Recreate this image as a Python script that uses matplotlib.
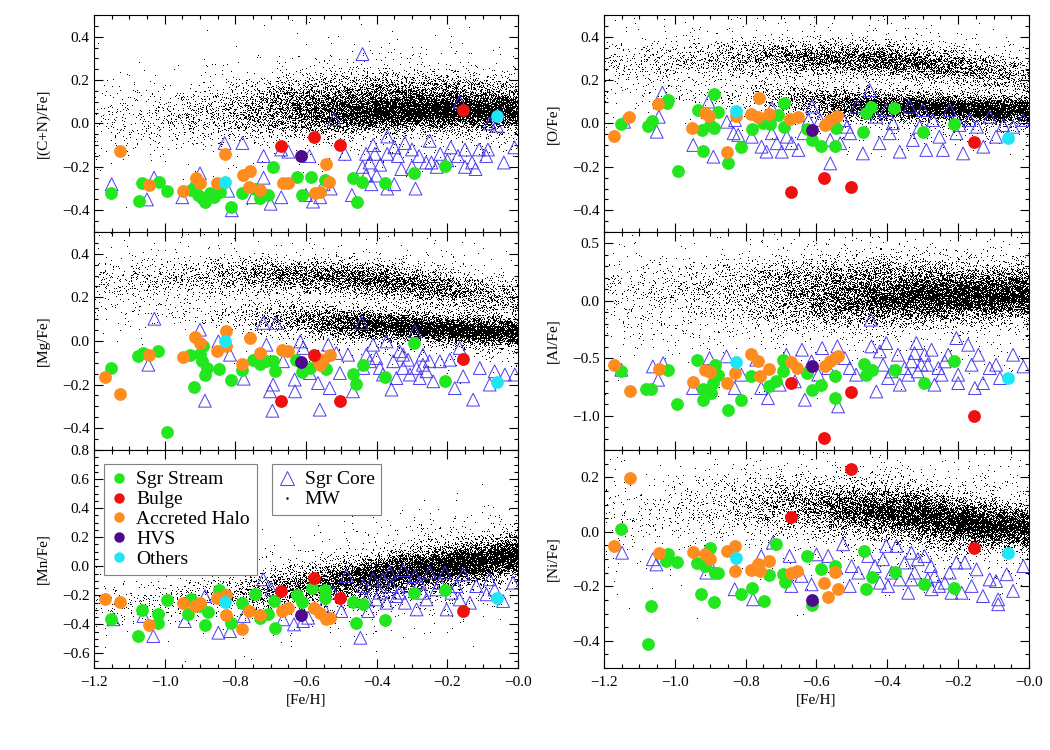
import numpy as np
import matplotlib
matplotlib.use('Agg')
import matplotlib.pyplot as plt
from matplotlib.lines import Line2D
from matplotlib.ticker import MultipleLocator, FixedLocator, FixedFormatter, FuncFormatter
from statistics import NormalDist

# ---------------- data ----------------
FEH_TICKS = [-1.2, -1.0, -0.8, -0.6, -0.4, -0.2, 0.0]
FEH_TICKLABELS = ["\u22121.2", "\u22121.0", "\u22120.8", "\u22120.6", "\u22120.4", "\u22120.2", "\u22120.0"]

# stars shared by every panel (Fe/H)
BULGE_FE = [-0.672, -0.578, -0.503, -0.156]
HVS_FE = [-0.614]
OTHERS_FE = [-0.828, -0.060]

# ---- [(C+N)/Fe]
CN_BULGE = [-0.104, -0.061, -0.097, 0.062]
CN_HVS = [-0.150]
CN_OTHERS = [-0.268, 0.034]
CN_STREAM = [(-1.152, -0.319), (-1.073, -0.356), (-1.065, -0.276), (-1.017, -0.268), (-0.993, -0.310),
             (-0.924, -0.307), (-0.915, -0.290), (-0.905, -0.330), (-0.895, -0.345), (-0.886, -0.360),
             (-0.872, -0.322), (-0.860, -0.340), (-0.844, -0.314), (-0.811, -0.383), (-0.780, -0.322),
             (-0.745, -0.300), (-0.731, -0.345), (-0.707, -0.330), (-0.693, -0.199), (-0.624, -0.248),
             (-0.612, -0.329), (-0.587, -0.248), (-0.547, -0.260), (-0.467, -0.253), (-0.455, -0.363),
             (-0.441, -0.271), (-0.377, -0.273), (-0.294, -0.227), (-0.207, -0.194)]
CN_HALO = [(-1.126, -0.127), (-1.044, -0.283), (-0.948, -0.311), (-0.912, -0.253), (-0.900, -0.273),
           (-0.853, -0.273), (-0.828, -0.142), (-0.778, -0.237), (-0.757, -0.219), (-0.761, -0.291),
           (-0.731, -0.306), (-0.666, -0.276), (-0.650, -0.273), (-0.544, -0.187), (-0.534, -0.270),
           (-0.574, -0.319), (-0.560, -0.314)]
CN_CORE = [(-1.15, -0.28), (-1.05, -0.35), (-1.03, -0.25), (-0.95, -0.34), (-0.90, -0.23), (-0.83, -0.09),
           (-0.78, -0.09), (-0.82, -0.31), (-0.81, -0.40), (-0.75, -0.34), (-0.72, -0.15), (-0.72, -0.25),
           (-0.70, -0.37), (-0.67, -0.34), (-0.67, -0.12), (-0.65, -0.13), (-0.60, -0.33), (-0.59, -0.15),
           (-0.58, -0.36), (-0.56, -0.34), (-0.55, -0.28), (-0.53, -0.30), (-0.52, 0.02), (-0.49, -0.14),
           (-0.47, -0.33), (-0.44, 0.32), (-0.44, -0.20), (-0.43, -0.14), (-0.43, -0.24), (-0.42, -0.18),
           (-0.415, -0.28), (-0.41, -0.10), (-0.405, -0.14), (-0.40, -0.24), (-0.39, -0.19), (-0.37, -0.30),
           (-0.37, -0.06), (-0.37, -0.14), (-0.35, -0.11), (-0.35, -0.28), (-0.34, -0.15), (-0.33, -0.21),
           (-0.32, -0.09), (-0.30, -0.12), (-0.30, -0.20), (-0.29, -0.30), (-0.28, -0.15), (-0.26, -0.18),
           (-0.25, -0.08), (-0.245, -0.18), (-0.23, -0.20), (-0.22, -0.14), (-0.20, -0.17), (-0.19, -0.11),
           (-0.17, -0.15), (-0.165, 0.10), (-0.15, -0.12), (-0.15, -0.20), (-0.13, -0.18), (-0.12, -0.21),
           (-0.11, -0.12), (-0.09, -0.15), (-0.085, -0.12), (-0.08, 0.00), (-0.06, -0.01), (-0.04, -0.18),
           (-0.01, -0.11)]

# ---- [O/Fe]
O_BULGE = [-0.317, -0.250, -0.294, -0.087]
O_HVS = [-0.030]
O_OTHERS = [0.058, -0.068]
O_STREAM = [(-1.153, -0.004), (-1.077, -0.012), (-1.065, 0.012), (-1.023, 0.096), (-1.018, 0.108),
            (-0.992, -0.217), (-0.935, 0.062), (-0.924, -0.030), (-0.919, -0.125), (-0.888, 0.134),
            (-0.879, 0.054), (-0.900, -0.007), (-0.888, -0.022), (-0.849, -0.180), (-0.814, -0.107),
            (-0.783, -0.027), (-0.750, 0.001), (-0.731, -0.004), (-0.709, 0.039), (-0.691, 0.096),
            (-0.693, -0.018), (-0.628, -0.027), (-0.613, -0.076), (-0.588, -0.104), (-0.548, -0.104),
            (-0.545, -0.022), (-0.469, -0.038), (-0.460, 0.050), (-0.446, 0.077), (-0.380, 0.070),
            (-0.300, -0.038), (-0.213, -0.002)]
O_HALO = [(-1.171, -0.058), (-1.128, 0.028), (-1.047, 0.090), (-0.952, -0.022), (-0.915, 0.047),
          (-0.903, 0.035), (-0.853, -0.130), (-0.828, 0.035), (-0.761, 0.119), (-0.785, 0.042),
          (-0.764, 0.031), (-0.733, 0.042), (-0.675, 0.019), (-0.651, 0.031), (-0.576, -0.007),
          (-0.561, 0.016), (-0.543, 0.035)]
O_CORE = [(-1.143, 0.008), (-1.035, 0.142), (-1.045, 0.031), (-1.051, -0.038), (-0.948, -0.099),
          (-0.905, 0.101), (-0.891, -0.153), (-0.853, 0.008), (-0.830, 0.016), (-0.834, -0.045),
          (-0.821, -0.053), (-0.783, -0.061), (-0.755, -0.107), (-0.741, -0.130), (-0.726, -0.045),
          (-0.712, -0.091), (-0.698, -0.130), (-0.684, -0.061), (-0.670, -0.091), (-0.651, -0.122),
          (-0.637, -0.045), (-0.623, 0.016), (-0.613, 0.078), (-0.726, 0.070), (-0.590, 0.016),
          (-0.561, -0.076), (-0.561, -0.184), (-0.524, 0.016), (-0.505, -0.045), (-0.486, 0.078),
          (-0.469, -0.138), (-0.450, 0.154), (-0.431, 0.031), (-0.422, -0.091), (-0.403, 0.062),
          (-0.393, -0.045), (-0.365, -0.130), (-0.337, 0.078), (-0.328, -0.076), (-0.300, 0.062),
          (-0.290, -0.122), (-0.271, 0.016), (-0.253, -0.061), (-0.243, -0.122), (-0.224, 0.062),
          (-0.205, -0.045), (-0.186, -0.138), (-0.168, 0.016), (-0.147, -0.015), (-0.129, -0.107),
          (-0.111, 0.031), (-0.093, -0.061), (-0.073, -0.007), (-0.045, -0.015), (-0.017, 0.016),
          (-0.514, -0.015), (-0.384, 0.001), (-0.309, -0.015), (-0.196, -0.007), (-0.533, -0.091)]

# ---- [Mg/Fe]
MG_BULGE = [-0.274, -0.063, -0.274, -0.081]
MG_HVS = [-0.096]
MG_OTHERS = [-0.002, -0.188]
MG_STREAM = [(-1.153, -0.124), (-1.075, -0.070), (-1.060, -0.055), (-1.018, -0.044), (-0.993, -0.417),
             (-0.917, -0.213), (-0.929, -0.066), (-0.900, -0.060), (-0.886, -0.154), (-0.881, -0.124),
             (-0.846, -0.127), (-0.811, -0.177), (-0.780, -0.131), (-0.749, -0.086), (-0.731, -0.106),
             (-0.712, -0.093), (-0.688, -0.139), (-0.693, -0.090), (-0.627, -0.086), (-0.612, -0.142),
             (-0.589, -0.124), (-0.542, -0.127), (-0.467, -0.150), (-0.457, -0.196), (-0.440, -0.109),
             (-0.377, -0.165), (-0.295, -0.009), (-0.207, -0.185), (-0.895, -0.093), (-0.891, -0.024)]
MG_HALO = [(-1.169, -0.167), (-1.126, -0.242), (-1.044, -0.063), (-0.949, -0.073), (-0.914, 0.017),
           (-0.900, -0.009), (-0.851, -0.044), (-0.827, 0.044), (-0.825, -0.024), (-0.780, -0.106),
           (-0.759, 0.014), (-0.731, -0.055), (-0.669, -0.040), (-0.650, -0.047), (-0.570, -0.078),
           (-0.561, -0.109), (-0.551, -0.086), (-0.533, -0.063)]
MG_CORE = [(-1.029, 0.102), (-1.046, -0.109), (-0.900, 0.052), (-0.886, -0.274), (-0.848, -0.002),
           (-0.815, -0.063), (-0.776, -0.173), (-0.721, 0.083), (-0.685, 0.083), (-0.712, -0.017),
           (-0.693, -0.200), (-0.695, -0.320), (-0.702, -0.231), (-0.665, -0.093), (-0.632, -0.177),
           (-0.631, -0.231), (-0.616, -0.002), (-0.608, -0.032), (-0.589, -0.147), (-0.561, -0.315),
           (-0.566, -0.193), (-0.537, -0.017), (-0.533, -0.216), (-0.514, -0.055), (-0.504, -0.147),
           (-0.481, -0.063), (-0.467, -0.231), (-0.443, 0.083), (-0.429, -0.063), (-0.410, -0.017),
           (-0.401, -0.078), (-0.391, -0.124), (-0.372, -0.002), (-0.358, -0.223), (-0.353, -0.093),
           (-0.335, -0.047), (-0.325, -0.124), (-0.311, -0.086), (-0.292, 0.044), (-0.287, -0.124),
           (-0.269, -0.063), (-0.259, -0.139), (-0.250, -0.093), (-0.240, -0.185), (-0.221, -0.093),
           (-0.193, -0.086), (-0.179, -0.216), (-0.165, -0.032), (-0.155, -0.162), (-0.127, -0.269),
           (-0.108, -0.124), (-0.080, -0.200), (-0.066, -0.139), (-0.037, -0.154), (-0.009, -0.154),
           (-0.438, -0.124), (-0.419, -0.093), (-0.382, -0.154), (-0.344, -0.170), (-0.306, -0.154),
           (-0.278, -0.170), (-0.269, -0.109), (-0.325, -0.063)]

# ---- [Al/Fe]
AL_BULGE = [-0.717, -1.197, -0.795, -1.002]
AL_HVS = [-0.572]
AL_OTHERS = [-0.534, -0.676]
AL_STREAM = [(-1.153, -0.615), (-1.080, -0.769), (-1.066, -0.769), (-1.019, -0.601), (-0.994, -0.900),
             (-0.936, -0.513), (-0.920, -0.769), (-0.920, -0.868), (-0.897, -0.804), (-0.887, -0.557),
             (-0.892, -0.717), (-0.850, -0.949), (-0.814, -0.862), (-0.784, -0.653), (-0.734, -0.746),
             (-0.713, -0.702), (-0.694, -0.513), (-0.694, -0.609), (-0.626, -0.630), (-0.614, -0.775),
             (-0.588, -0.731), (-0.547, -0.659), (-0.547, -0.848), (-0.466, -0.551), (-0.459, -0.644),
             (-0.443, -0.601), (-0.379, -0.601), (-0.296, -0.717), (-0.211, -0.528), (-0.878, -0.644)]
AL_HALO = [(-1.172, -0.563), (-1.127, -0.784), (-1.046, -0.592), (-0.950, -0.711), (-0.915, -0.601),
           (-0.901, -0.621), (-0.854, -0.717), (-0.831, -0.630), (-0.784, -0.464), (-0.765, -0.528),
           (-0.760, -0.659), (-0.734, -0.595), (-0.671, -0.537), (-0.654, -0.586), (-0.577, -0.572),
           (-0.562, -0.528), (-0.549, -0.499), (-0.538, -0.484)]
AL_CORE = [(-1.151, -0.601), (-1.062, -0.572), (-1.033, -0.543), (-1.047, -0.688), (-0.949, -0.760),
           (-0.902, -0.499), (-0.854, -0.484), (-0.831, -0.760), (-0.812, -0.644), (-0.770, -0.513),
           (-0.756, -0.760), (-0.737, -0.848), (-0.704, -0.731), (-0.685, -0.470), (-0.661, -0.702),
           (-0.641, -0.426), (-0.633, -0.862), (-0.614, -0.528), (-0.595, -0.644), (-0.584, -0.412),
           (-0.567, -0.586), (-0.541, -0.397), (-0.539, -0.920), (-0.520, -0.499), (-0.506, -0.586),
           (-0.488, -0.644), (-0.447, -0.165), (-0.445, -0.397), (-0.431, -0.790), (-0.421, -0.441),
           (-0.412, -0.557), (-0.403, -0.368), (-0.398, -0.673), (-0.370, -0.470), (-0.365, -0.731),
           (-0.351, -0.586), (-0.332, -0.528), (-0.318, -0.368), (-0.314, -0.615), (-0.295, -0.470),
           (-0.286, -0.557), (-0.275, -0.426), (-0.267, -0.731), (-0.256, -0.586), (-0.238, -0.528),
           (-0.228, -0.470), (-0.205, -0.325), (-0.200, -0.644), (-0.200, -0.717), (-0.172, -0.383),
           (-0.162, -0.557), (-0.153, -0.760), (-0.143, -0.470), (-0.130, -0.717), (-0.111, -0.586),
           (-0.093, -0.557), (-0.082, -0.673), (-0.045, -0.470), (-0.016, -0.572), (-0.388, -0.615),
           (-0.341, -0.644), (-0.304, -0.557), (-0.247, -0.644), (-0.323, -0.455)]

# ---- [Mn/Fe]
MN_BULGE = [-0.170, -0.083, -0.216, -0.308]
MN_HVS = [-0.338]
MN_OTHERS = [-0.246, -0.221]
MN_STREAM = [(-1.153, -0.365), (-1.075, -0.480), (-1.065, -0.301), (-1.018, -0.331), (-1.018, -0.388),
             (-0.993, -0.235), (-0.933, -0.331), (-0.924, -0.223), (-0.886, -0.407), (-0.877, -0.315),
             (-0.846, -0.164), (-0.811, -0.388), (-0.780, -0.251), (-0.745, -0.193), (-0.729, -0.354),
             (-0.707, -0.331), (-0.691, -0.239), (-0.688, -0.423), (-0.625, -0.200), (-0.612, -0.246),
             (-0.584, -0.147), (-0.546, -0.164), (-0.546, -0.216), (-0.467, -0.246), (-0.440, -0.262),
             (-0.457, -0.393), (-0.377, -0.370), (-0.295, -0.182), (-0.207, -0.164), (-0.900, -0.274)]
MN_HALO = [(-1.169, -0.223), (-1.126, -0.246), (-1.044, -0.407), (-0.949, -0.251), (-0.914, -0.274),
           (-0.900, -0.251), (-0.851, -0.216), (-0.825, -0.200), (-0.825, -0.338), (-0.780, -0.430),
           (-0.761, -0.308), (-0.731, -0.338), (-0.669, -0.308), (-0.650, -0.285), (-0.578, -0.285),
           (-0.561, -0.320), (-0.544, -0.361), (-0.533, -0.354)]
MN_CORE = [(-1.145, -0.365), (-1.060, -0.342), (-1.032, -0.480), (-0.943, -0.377), (-0.886, -0.205),
           (-0.848, -0.457), (-0.815, -0.446), (-0.776, -0.342), (-0.721, -0.090), (-0.698, -0.159),
           (-0.665, -0.365), (-0.634, -0.400), (-0.594, -0.354), (-0.552, -0.274), (-0.500, -0.308),
           (-0.485, -0.067), (-0.446, -0.492), (-0.438, -0.136), (-0.424, -0.308), (-0.410, -0.090),
           (-0.391, -0.182), (-0.382, -0.090), (-0.372, -0.251), (-0.358, -0.136), (-0.344, -0.205),
           (-0.325, -0.027), (-0.320, -0.251), (-0.306, -0.136), (-0.292, -0.067), (-0.287, -0.297),
           (-0.269, -0.182), (-0.259, -0.228), (-0.250, -0.044), (-0.231, -0.159), (-0.207, -0.044),
           (-0.202, -0.297), (-0.188, -0.182), (-0.174, -0.136), (-0.165, -0.228), (-0.155, -0.056),
           (-0.136, -0.251), (-0.118, -0.136), (-0.089, -0.193), (-0.080, -0.090), (-0.066, -0.159),
           (-0.042, -0.239), (-0.014, -0.113), (-0.401, -0.228), (-0.363, -0.044), (-0.335, -0.182),
           (-0.278, -0.113), (-0.221, -0.113), (-0.429, -0.228), (-0.608, -0.377), (-0.523, -0.182)]

# ---- [Ni/Fe]
NI_BULGE = [0.054, np.nan, 0.229, -0.058]
NI_HVS = [-0.250]
NI_OTHERS = [-0.095, -0.077]
NI_STREAM = [(-1.153, 0.009), (-1.066, -0.272), (-1.076, -0.411), (-1.019, -0.083), (-1.024, -0.107),
             (-0.994, -0.111), (-0.936, -0.113), (-0.925, -0.230), (-0.916, -0.126), (-0.900, -0.058),
             (-0.889, -0.258), (-0.887, -0.150), (-0.878, -0.150), (-0.814, -0.230), (-0.782, -0.205),
             (-0.748, -0.254), (-0.734, -0.160), (-0.713, -0.046), (-0.694, -0.156), (-0.690, -0.184),
             (-0.626, -0.089), (-0.614, -0.270), (-0.588, -0.136), (-0.547, -0.126), (-0.466, -0.071),
             (-0.459, -0.209), (-0.443, -0.166), (-0.379, -0.148), (-0.296, -0.193), (-0.211, -0.205)]
NI_HALO = [(-1.172, -0.052), (-1.127, 0.196), (-1.046, -0.077), (-0.950, -0.074), (-0.916, -0.083),
           (-0.901, -0.101), (-0.854, -0.071), (-0.829, -0.052), (-0.829, -0.144), (-0.784, -0.140),
           (-0.765, -0.120), (-0.760, -0.144), (-0.734, -0.107), (-0.671, -0.153), (-0.654, -0.144),
           (-0.578, -0.187), (-0.567, -0.240), (-0.547, -0.148), (-0.538, -0.211)]
NI_CORE = [(-1.149, -0.077), (-1.062, -0.101), (-1.052, -0.120), (-0.911, -0.150), (-0.906, -0.107),
           (-0.831, -0.211), (-0.779, -0.248), (-0.756, -0.089), (-0.723, -0.040), (-0.676, -0.089),
           (-0.671, -0.199), (-0.643, -0.162), (-0.614, -0.193), (-0.600, -0.083), (-0.567, -0.089),
           (-0.544, -0.132), (-0.525, -0.046), (-0.506, -0.199), (-0.501, -0.126), (-0.482, -0.150),
           (-0.454, -0.089), (-0.435, -0.126), (-0.421, -0.187), (-0.412, -0.101), (-0.403, -0.052),
           (-0.388, -0.150), (-0.374, -0.052), (-0.365, -0.175), (-0.351, -0.113), (-0.341, -0.224),
           (-0.332, -0.077), (-0.323, -0.150), (-0.314, -0.101), (-0.295, -0.089), (-0.286, -0.175),
           (-0.277, -0.126), (-0.267, -0.162), (-0.254, -0.199), (-0.238, -0.187), (-0.224, -0.150),
           (-0.205, -0.113), (-0.190, -0.224), (-0.181, -0.113), (-0.162, -0.199), (-0.148, -0.138),
           (-0.130, -0.236), (-0.111, -0.175), (-0.093, -0.181), (-0.087, -0.248), (-0.087, -0.266),
           (-0.063, -0.156), (-0.045, -0.217), (-0.016, -0.126), (-0.398, -0.199), (-0.275, -0.211),
           (-0.332, -0.175), (-0.219, -0.224)]

# ---- Milky Way (MW) field-star density, read as ridge centre / width / relative density
MW_FE_KNOTS = [-1.2, -1.0, -0.8, -0.6, -0.4, -0.2, 0.0]
CN_MW_LO_CEN = [-0.04, -0.01, 0.02, 0.035, 0.045, 0.055, 0.055]
CN_MW_LO_WID = [0.08, 0.07, 0.055, 0.045, 0.04, 0.04, 0.04]
CN_MW_LO_DEN = [2, 4, 10, 40, 100, 120, 100]
CN_MW_HI_CEN = [0.02, 0.05, 0.08, 0.11, 0.13, 0.13, 0.11]
CN_MW_HI_WID = [0.08, 0.07, 0.06, 0.055, 0.05, 0.05, 0.05]
CN_MW_HI_DEN = [3, 5, 12, 30, 40, 30, 15]
O_MW_LO_CEN = [0.14, 0.13, 0.12, 0.09, 0.075, 0.065, 0.055]
O_MW_LO_WID = [0.05, 0.045, 0.04, 0.035, 0.03, 0.03, 0.03]
O_MW_LO_DEN = [1, 2, 5, 30, 80, 100, 90]
O_MW_HI_CEN = [0.27, 0.29, 0.30, 0.30, 0.29, 0.26, 0.21]
O_MW_HI_WID = [0.06, 0.05, 0.04, 0.035, 0.035, 0.04, 0.045]
O_MW_HI_DEN = [5, 8, 15, 30, 40, 30, 12]
MG_MW_LO_CEN = [0.15, 0.13, 0.11, 0.09, 0.07, 0.05, 0.035]
MG_MW_LO_WID = [0.05, 0.045, 0.04, 0.035, 0.03, 0.03, 0.03]
MG_MW_LO_DEN = [1, 2, 5, 30, 80, 100, 90]
MG_MW_HI_CEN = [0.27, 0.29, 0.30, 0.30, 0.28, 0.24, 0.18]
MG_MW_HI_WID = [0.06, 0.05, 0.04, 0.035, 0.035, 0.04, 0.045]
MG_MW_HI_DEN = [5, 8, 15, 30, 40, 30, 12]
AL_MW_LO_CEN = [-0.12, -0.08, -0.04, -0.01, 0.0, 0.02, 0.04]
AL_MW_LO_WID = [0.2, 0.17, 0.14, 0.11, 0.095, 0.095, 0.095]
AL_MW_LO_DEN = [2, 5, 12, 40, 90, 110, 100]
AL_MW_HI_CEN = [0.10, 0.14, 0.18, 0.20, 0.20, 0.18, 0.15]
AL_MW_HI_WID = [0.15, 0.12, 0.10, 0.09, 0.09, 0.09, 0.09]
AL_MW_HI_DEN = [4, 6, 10, 20, 25, 22, 15]
MN_MW_CEN = [-0.28, -0.24, -0.19, -0.13, -0.07, 0.0, 0.07]
MN_MW_WID = [0.08, 0.075, 0.07, 0.065, 0.065, 0.065, 0.065]
MN_MW_DEN = [3, 6, 12, 40, 90, 110, 100]
NI_MW_CEN = [0.05, 0.08, 0.10, 0.09, 0.07, 0.035, 0.01]
NI_MW_WID = [0.08, 0.07, 0.06, 0.05, 0.045, 0.04, 0.04]
NI_MW_DEN = [3, 6, 14, 40, 90, 110, 90]

# ---------------- style ----------------
plt.rcParams['font.family'] = ['Liberation Serif', 'DejaVu Serif']
plt.rcParams['axes.unicode_minus'] = True
C_STREAM = '#22e61e'
C_BULGE = '#f01010'
C_HALO = '#ff8c1e'
C_HVS = '#4f0a8c'
C_OTHERS = '#1ee6f5'
C_CORE = '#4a3cf0'

_ND = NormalDist()
_A1, _B1 = np.sqrt(2.0) - 1.0, (np.sqrt(5.0) - 1.0) / 2.0
_A2, _B2 = np.sqrt(3.0) - 1.0, np.sqrt(7.0) - 2.0


def mw_points(cen, wid, den, n, offset):
    """Deterministic equidistributed rendering of a density ridge (quadratic Weyl sequence)."""
    grid = np.linspace(-1.2, 0.0, 481)
    d = np.interp(grid, MW_FE_KNOTS, den)
    cdf = np.concatenate([[0.0], np.cumsum(0.5 * (d[1:] + d[:-1]))])
    cdf /= cdf[-1]
    k = (np.arange(1, n + 1) + offset).astype(np.float64)
    u = (k * k * _A1 + k * _B1) % 1.0
    v = (k * k * _A2 + k * _B2) % 1.0
    x = np.interp(u, cdf, grid)
    z = np.array([_ND.inv_cdf(min(max(t, 1e-4), 1 - 1e-4)) for t in v])
    w = np.interp(x, MW_FE_KNOTS, wid)
    w = np.where(np.arange(n) % 9 == 0, 2.6 * w, w)
    y = np.interp(x, MW_FE_KNOTS, cen) + w * z
    return x, y


def minus_fmt(v, pos):
    s = f"{v:.1f}"
    if s == "-0.0":
        s = "0.0"
    return s.replace('-', '\u2212')


fig = plt.figure(figsize=(10.5, 7.5), dpi=100)
LEFT = [0.0895, 0.5752]
WIDTH = [0.4038, 0.4048]
BOTTOM = [0.6907, 0.4, 0.1093]
HEIGHT = [0.2893, 0.2907, 0.2907]

panels = [
    (0, 0, '[(C+N)/Fe]', (-0.5, 0.5), 0.2, 0.05, CN_STREAM, CN_HALO, CN_CORE, CN_BULGE, CN_HVS, CN_OTHERS,
     [(CN_MW_LO_CEN, CN_MW_LO_WID, CN_MW_LO_DEN, 11000), (CN_MW_HI_CEN, CN_MW_HI_WID, CN_MW_HI_DEN, 4500)]),
    (1, 0, '[O/Fe]', (-0.5, 0.5), 0.2, 0.05, O_STREAM, O_HALO, O_CORE, O_BULGE, O_HVS, O_OTHERS,
     [(O_MW_LO_CEN, O_MW_LO_WID, O_MW_LO_DEN, 8500), (O_MW_HI_CEN, O_MW_HI_WID, O_MW_HI_DEN, 5500)]),
    (0, 1, '[Mg/Fe]', (-0.5, 0.5), 0.2, 0.05, MG_STREAM, MG_HALO, MG_CORE, MG_BULGE, MG_HVS, MG_OTHERS,
     [(MG_MW_LO_CEN, MG_MW_LO_WID, MG_MW_LO_DEN, 8500), (MG_MW_HI_CEN, MG_MW_HI_WID, MG_MW_HI_DEN, 5500)]),
    (1, 1, '[Al/Fe]', (-1.3, 0.6), 0.5, 0.1, AL_STREAM, AL_HALO, AL_CORE, AL_BULGE, AL_HVS, AL_OTHERS,
     [(AL_MW_LO_CEN, AL_MW_LO_WID, AL_MW_LO_DEN, 10500), (AL_MW_HI_CEN, AL_MW_HI_WID, AL_MW_HI_DEN, 3500)]),
    (0, 2, '[Mn/Fe]', (-0.7, 0.8), 0.2, 0.05, MN_STREAM, MN_HALO, MN_CORE, MN_BULGE, MN_HVS, MN_OTHERS,
     [(MN_MW_CEN, MN_MW_WID, MN_MW_DEN, 12500)]),
    (1, 2, '[Ni/Fe]', (-0.5, 0.3), 0.2, 0.05, NI_STREAM, NI_HALO, NI_CORE, NI_BULGE, NI_HVS, NI_OTHERS,
     [(NI_MW_CEN, NI_MW_WID, NI_MW_DEN, 12500)]),
]

S_CIRC = 85
S_TRI = 85
axes = {}
for i, (col, row, ylab, ylim, major, minor, stream, halo, core, bulge, hvs, others, mw) in enumerate(panels):
    ax = fig.add_axes([LEFT[col], BOTTOM[row], WIDTH[col], HEIGHT[row]])
    axes[(col, row)] = ax
    for j, (cen, wid, den, n) in enumerate(mw):
        mx, my = mw_points(cen, wid, den, n, offset=1000 * i + 20000 * j)
        ax.plot(mx, my, ',', color='black', zorder=1)
    cfe, cy = zip(*core)
    ax.scatter(cfe, cy, s=S_TRI, marker='^', facecolors='none', edgecolors=C_CORE, linewidths=0.7, zorder=2)
    sfe, sy = zip(*stream)
    ax.scatter(sfe, sy, s=S_CIRC, color=C_STREAM, linewidths=0, zorder=3)
    hfe, hy = zip(*halo)
    ax.scatter(hfe, hy, s=S_CIRC, color=C_HALO, linewidths=0, zorder=4)
    ax.scatter(BULGE_FE, bulge, s=S_CIRC, color=C_BULGE, linewidths=0, zorder=5)
    ax.scatter(HVS_FE, hvs, s=S_CIRC, color=C_HVS, linewidths=0, zorder=5)
    ax.scatter(OTHERS_FE, others, s=S_CIRC, color=C_OTHERS, linewidths=0, zorder=5)

    ax.set_xlim(-1.2, 0.0)
    ax.set_ylim(*ylim)
    ax.xaxis.set_major_locator(FixedLocator(FEH_TICKS))
    ax.xaxis.set_major_formatter(FixedFormatter(FEH_TICKLABELS))
    ax.xaxis.set_minor_locator(MultipleLocator(0.05))
    ax.yaxis.set_major_locator(MultipleLocator(major))
    ax.yaxis.set_minor_locator(MultipleLocator(minor))
    ax.yaxis.set_major_formatter(FuncFormatter(minus_fmt))
    ax.tick_params(which='both', direction='in', top=True, right=True, labelsize=11, width=0.8)
    ax.tick_params(which='major', length=6.5)
    ax.tick_params(which='minor', length=3.2)
    ax.tick_params(axis='y', pad=3)
    ax.tick_params(axis='x', pad=6)
    for sp in ax.spines.values():
        sp.set_linewidth(0.8)
    ax.set_ylabel(ylab, fontsize=11)
    ax.yaxis.set_label_coords(-0.105, 0.5)
    if row < 2:
        ax.tick_params(labelbottom=False)
    else:
        ax.set_xlabel('[Fe/H]', fontsize=11)
        ax.xaxis.set_label_coords(0.5, -0.115)

# legends in the [Mn/Fe] panel
axl = axes[(0, 2)]
h1 = [Line2D([], [], ls='none', marker='o', ms=7.5, mec='none', mfc=c) for c in
      [C_STREAM, C_BULGE, C_HALO, C_HVS, C_OTHERS]]
leg1 = axl.legend(h1, ['Sgr Stream', 'Bulge', 'Accreted Halo', 'HVS', 'Others'],
                  loc='upper left', bbox_to_anchor=(0.024, 0.936), borderaxespad=0,
                  fontsize=14, frameon=True, fancybox=False, framealpha=1, edgecolor='#808080',
                  handlelength=0.8, handletextpad=0.5, labelspacing=0.12, borderpad=0.35)
leg1.get_frame().set_linewidth(0.8)
leg1.set_zorder(10)
axl.add_artist(leg1)
h2 = [Line2D([], [], ls='none', marker='^', ms=9.5, mfc='none', mec=C_CORE, mew=0.7),
      Line2D([], [], ls='none', marker='.', ms=1.5, color='black')]
leg2 = axl.legend(h2, ['Sgr Core', 'MW'], loc='upper left', bbox_to_anchor=(0.421, 0.936), borderaxespad=0,
                  fontsize=14, frameon=True, fancybox=False, framealpha=1, edgecolor='#808080',
                  handlelength=0.8, handletextpad=0.5, labelspacing=0.12, borderpad=0.35)
leg2.get_frame().set_linewidth(0.8)
leg2.set_zorder(10)

fig.savefig('out.png', dpi=100)
